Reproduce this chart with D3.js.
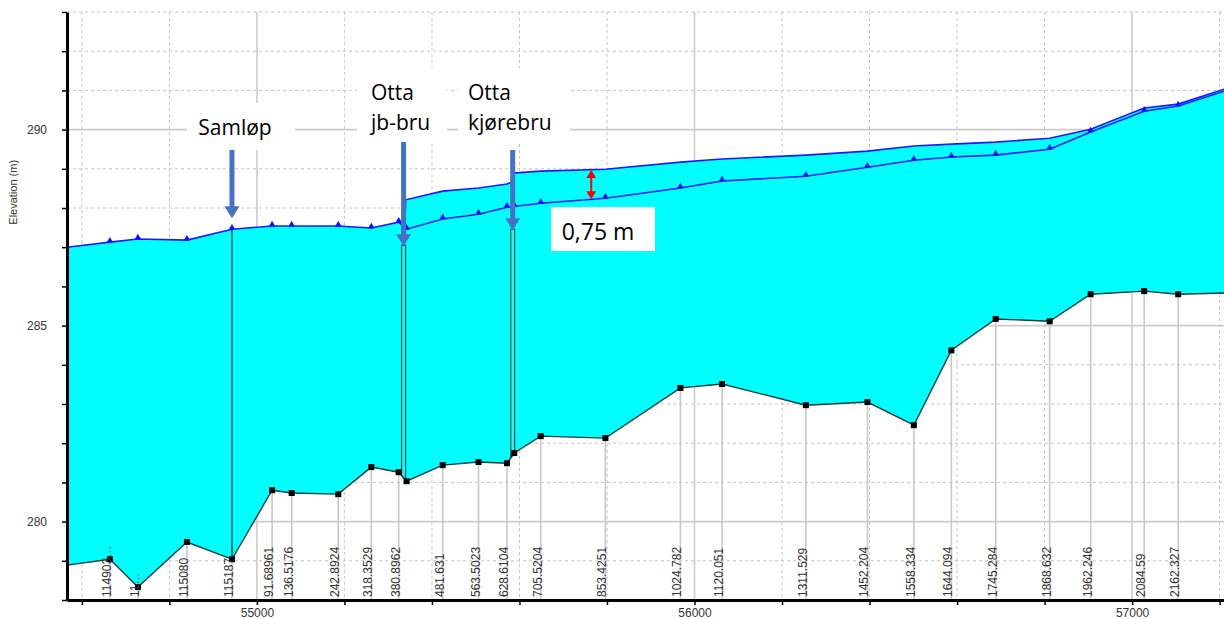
<!DOCTYPE html>
<html>
<head>
<meta charset="utf-8">
<script src="https://cdn.jsdelivr.net/npm/d3@7"></script>
<style>
  body { margin: 0; background: #fff; }
  svg { display: block; }
</style>
</head>
<body>
<svg id="chart" width="1224" height="619"></svg>
<script>
// Cross-section stations (main channel distance, m) and their labels
const stationLabels = ["114903…", "11…", "115080", "115187…", "91.68961", "136.5176", "242.8924",
  "318.3529", "380.8962", "481.631", "563.5023", "628.6104", "705.5204", "853.4251", "1024.782",
  "1120.051", "1311.529", "1452.204", "1558.334", "1644.094", "1745.284", "1868.632", "1962.246",
  "2084.59", "2162.327"];
const stationDist = [54664, 54728, 54840, 54943, 55034.7, 55079.5, 55185.9,
  55261.4, 55323.9, 55424.6, 55506.5, 55571.6, 55648.5, 55796.4, 55967.8,
  56063.0, 56254.5, 56395.2, 56501.3, 56587.0, 56688.3, 56811.6, 56905.2,
  57027.6, 57105.3];

// Channel bed (minimum elevation), first and last points are the plot edges
const bedDist = [54566, 54664, 54728, 54840, 54943, 55034.7, 55079.5, 55185.9, 55261.4, 55323.9,
  55342, 55424.6, 55506.5, 55571.6, 55588, 55648.5, 55796.4, 55967.8, 56063.0, 56254.5,
  56395.2, 56501.3, 56587.0, 56688.3, 56811.6, 56905.2, 57027.6, 57105.3, 57210];
const bedElev = [278.89, 279.04, 278.33, 279.48, 279.04, 280.80, 280.73, 280.70, 281.39, 281.26,
  281.03, 281.44, 281.52, 281.49, 281.75, 282.18, 282.13, 283.41, 283.51, 282.97,
  283.05, 282.46, 284.37, 285.17, 285.11, 285.80, 285.88, 285.80, 285.83];

// Water surface, existing situation (with markers)
const wsDist = bedDist;
const wsElev = [287.00, 287.13, 287.21, 287.18, 287.46, 287.54, 287.54, 287.54, 287.49, 287.64,
  287.46, 287.72, 287.84, 288.02, 288.04, 288.12, 288.25, 288.51, 288.69, 288.81,
  289.04, 289.22, 289.30, 289.35, 289.50, 289.94, 290.47, 290.60, 290.98];

// Water surface, alternative profile (raised downstream of jb-bru)
const ws2Dist = [55323.9, 55338, 55340, 55424.6, 55506.5, 55571.6, 55582, 55585, 55648.5, 55796.4,
  55967.8, 56063.0, 56254.5, 56395.2, 56501.3, 56587.0, 56688.3, 56811.6, 56905.2, 57027.6,
  57105.3, 57210];
const ws2Elev = [287.64, 287.64, 288.21, 288.43, 288.51, 288.61, 288.66, 288.89, 288.94, 288.99,
  289.17, 289.25, 289.35, 289.45, 289.58, 289.63, 289.68, 289.78, 290.01, 290.55,
  290.65, 291.03];

// Bridges: name lines, left/right face and top elevation
const bridgeNames = [["Otta", "jb-bru"], ["Otta", "kjørebru"]];
const bridgeLeft = [55330.6, 55580];
const bridgeRight = [55339.7, 55589];
const bridgeTop = [287.05, 287.46];

// Junction and head-difference annotation
const junctionName = "Samløp";
const junctionDist = 54943;
const diffDist = 55764;
const diffValue = 0.75;
const diffLabel = "0,75 m";

const xTicks = d3.range(54600, 57201, 200);
const yTicks = d3.range(278, 294, 1);

const svg = d3.select("#chart");
const L = 67, R = 1224, T = 12, B = 600;
const x = d3.scaleLinear().domain([54566, 57210]).range([L, R]);
const y = d3.scaleLinear().domain([278, 293]).range([B, T]);

const interp = (ds, vs, d) => {
  const i = Math.min(ds.length - 1, Math.max(1, d3.bisectLeft(ds, d)));
  const t = (d - ds[i - 1]) / (ds[i] - ds[i - 1]);
  return vs[i - 1] + t * (vs[i] - vs[i - 1]);
};
const bedAt = d => interp(bedDist, bedElev, d);

svg.append("defs").append("clipPath").attr("id", "plot")
  .append("rect").attr("x", L).attr("y", T).attr("width", R - L).attr("height", B - T);

// grid
const grid = svg.append("g");
grid.selectAll("line.h").data(yTicks.filter(v => v > 278)).join("line")
  .attr("x1", L).attr("x2", R).attr("y1", d => y(d)).attr("y2", d => y(d))
  .attr("stroke", d => d % 5 === 0 ? "#cccccc" : "#c4c4c4")
  .attr("stroke-width", d => d % 5 === 0 ? 1.6 : 1)
  .attr("stroke-dasharray", d => d % 5 === 0 ? null : "3,3");
grid.selectAll("line.v").data(xTicks).join("line")
  .attr("y1", T).attr("y2", B).attr("x1", d => x(d)).attr("x2", d => x(d))
  .attr("stroke", d => d % 1000 === 0 ? "#cccccc" : "#c4c4c4")
  .attr("stroke-width", d => d % 1000 === 0 ? 1.6 : 1)
  .attr("stroke-dasharray", d => d % 1000 === 0 ? null : "3,3");

// station lines from the axis up to the bed
grid.selectAll("line.st").data(stationDist).join("line")
  .attr("x1", d => x(d)).attr("x2", d => x(d))
  .attr("y1", B).attr("y2", d => y(bedAt(d)))
  .attr("stroke", "#c8c8c8").attr("stroke-width", 1.6);

const plot = svg.append("g").attr("clip-path", "url(#plot)");

// water body: top follows the highest surface
const topPts = [];
wsDist.forEach((d, i) => { if (d <= ws2Dist[1]) topPts.push([d, wsElev[i]]); });
ws2Dist.forEach((d, i) => { if (i >= 1) topPts.push([d, ws2Elev[i]]); });
const bedPts = bedDist.map((d, i) => [d, bedElev[i]]).reverse();
const poly = topPts.concat(bedPts);
plot.append("path")
  .attr("d", d3.line().x(p => x(p[0])).y(p => y(p[1]))(poly) + "Z")
  .attr("fill", "#00ffff");

// junction line
plot.append("line")
  .attr("x1", x(junctionDist)).attr("x2", x(junctionDist))
  .attr("y1", y(bedAt(junctionDist))).attr("y2", y(interp(wsDist, wsElev, junctionDist)))
  .attr("stroke", "#000").attr("stroke-width", 1);

// bridges
bridgeLeft.forEach((bl, i) => {
  const br = bridgeRight[i];
  const pts = [[bl, bedAt(bl)], [bl, bridgeTop[i]], [br, bridgeTop[i]], [br, bedAt(br)]];
  plot.append("path")
    .attr("d", d3.line().x(p => x(p[0])).y(p => y(p[1]))(pts) + "Z")
    .attr("fill", "#2ff0ec").attr("stroke", "#1f6a60").attr("stroke-width", 1.3);
});

// bed line
const line = d3.line().x(d => x(d[0])).y(d => y(d[1]));
plot.append("path").attr("d", line(bedDist.map((d, i) => [d, bedElev[i]])))
  .attr("fill", "none").attr("stroke", "#173c3c").attr("stroke-width", 1.4);

// water surface lines
plot.append("path").attr("d", line(ws2Dist.map((d, i) => [d, ws2Elev[i]])))
  .attr("fill", "none").attr("stroke", "#1a1aff").attr("stroke-width", 1.6);
plot.append("path").attr("d", line(wsDist.map((d, i) => [d, wsElev[i]])))
  .attr("fill", "none").attr("stroke", "#1a1aff").attr("stroke-width", 1.6);

// markers
const inner = d => d > bedDist[0] && d < bedDist[bedDist.length - 1];
plot.selectAll("rect.bm").data(bedDist.map((d, i) => [d, bedElev[i]]).filter(p => inner(p[0]))).join("rect")
  .attr("x", p => x(p[0]) - 3).attr("y", p => y(p[1]) - 3).attr("width", 6).attr("height", 6)
  .attr("fill", "#000");
plot.selectAll("path.tm").data(wsDist.map((d, i) => [d, wsElev[i]]).filter(p => inner(p[0]))).join("path")
  .attr("d", d3.symbol(d3.symbolTriangle, 18))
  .attr("transform", p => `translate(${x(p[0])},${y(p[1]) - 1.5})`)
  .attr("fill", "#1010ff");

// axes
const xAxis = d3.axisBottom(x).tickValues(xTicks).tickSize(5).tickSizeOuter(0)
  .tickFormat(d => d % 1000 === 0 ? d : "");
const gx = svg.append("g").attr("transform", `translate(0,${B})`).call(xAxis);
const yAxis = d3.axisLeft(y).tickValues(yTicks).tickSize(5).tickSizeOuter(0)
  .tickFormat(d => d % 5 === 0 ? d : "");
const gy = svg.append("g").attr("transform", `translate(${L},0)`).call(yAxis);
[gx, gy].forEach(g => {
  g.select(".domain").attr("stroke", "#000").attr("stroke-width", 3);
  g.selectAll(".tick line").attr("stroke", "#000").attr("stroke-width", 1.5);
  g.selectAll(".tick text").attr("font-family", "Liberation Sans, Arial, sans-serif")
    .attr("font-size", 12).attr("fill", "#333");
});
gy.selectAll(".tick text").attr("x", -20);

svg.append("text")
  .attr("transform", `translate(17,${y(288.4)}) rotate(-90)`)
  .attr("text-anchor", "middle")
  .attr("font-family", "Liberation Sans, Arial, sans-serif").attr("font-size", 11).attr("fill", "#333")
  .text("Elevation (m)");

// station labels
svg.selectAll("text.st").data(stationDist).join("text")
  .attr("transform", d => `translate(${x(d) + 1},597) rotate(-90)`)
  .attr("text-anchor", "start")
  .attr("font-family", "Liberation Sans, Arial, sans-serif").attr("font-size", 12).attr("fill", "#333")
  .text((d, i) => stationLabels[i]);

// annotations
const ann = svg.append("g").attr("font-family", "Open Sans, sans-serif").attr("fill", "#000");
const arrowBlue = "#4472c4";
function downArrow(cx, y0, tip) {
  ann.append("line").attr("x1", cx).attr("x2", cx).attr("y1", y0).attr("y2", tip - 10)
    .attr("stroke", arrowBlue).attr("stroke-width", 5);
  ann.append("path").attr("d", `M${cx - 7.5},${tip - 12}L${cx + 7.5},${tip - 12}L${cx},${tip}Z`)
    .attr("fill", arrowBlue);
}

// junction label
ann.append("rect").attr("x", 187).attr("y", 103).attr("width", 108).attr("height", 47).attr("fill", "#fff");
ann.append("text").attr("x", x(junctionDist) + 3).attr("y", 135).attr("text-anchor", "middle")
  .attr("font-size", 21).text(junctionName);
downArrow(x(junctionDist), 150, y(interp(wsDist, wsElev, junctionDist)) - 11);

// bridge labels
const boxX = [357, 458], boxW = [90, 112];
bridgeNames.forEach((nm, i) => {
  ann.append("rect").attr("x", boxX[i]).attr("y", 68).attr("width", boxW[i]).attr("height", 74).attr("fill", "#fff");
  nm.forEach((t, k) => ann.append("text").attr("x", boxX[i] + (i === 0 ? 14 : 10)).attr("y", 100 + k * 30)
    .attr("font-size", 21).text(t));
  const cx = x((bridgeLeft[i] + bridgeRight[i]) / 2);
  downArrow(cx, i === 0 ? 142 : 150, y(bridgeTop[i]) + 1);
});

// head difference
const lowAt = interp(wsDist, wsElev, diffDist);
const xd = x(diffDist), y1 = y(lowAt), y2 = y(lowAt + diffValue);
ann.append("line").attr("x1", xd).attr("x2", xd).attr("y1", y1 - 6).attr("y2", y2 + 6)
  .attr("stroke", "#ff0000").attr("stroke-width", 2);
ann.append("path").attr("d", `M${xd - 5},${y2 + 8}L${xd + 5},${y2 + 8}L${xd},${y2}Z`).attr("fill", "#ff0000");
ann.append("path").attr("d", `M${xd - 5},${y1 - 8}L${xd + 5},${y1 - 8}L${xd},${y1}Z`).attr("fill", "#ff0000");
ann.append("rect").attr("x", 551).attr("y", 207).attr("width", 104).attr("height", 44).attr("fill", "#fff");
ann.append("text").attr("x", 598).attr("y", 240).attr("text-anchor", "middle")
  .attr("font-size", 23).text(diffLabel);
</script>
</body>
</html>
